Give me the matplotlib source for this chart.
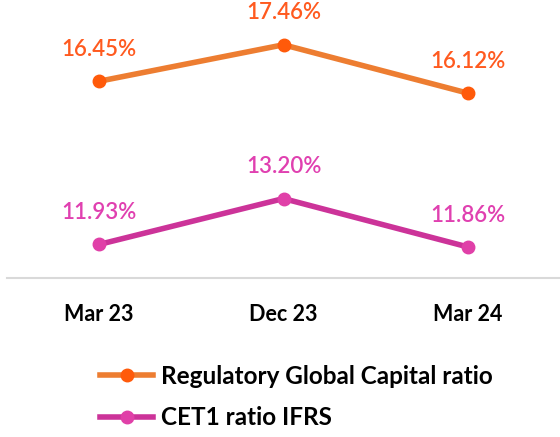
import matplotlib.pyplot as plt

periods = ["Mar 23", "Dec 23", "Mar 24"]
global_capital = [16.45, 17.46, 16.12]
cet1 = [11.93, 13.20, 11.86]

plt.rcParams['font.family'] = ['Lato', 'DejaVu Sans']

fig = plt.figure(figsize=(5.6, 4.37), dpi=100)
ax = fig.add_axes([7 / 560, 1 - 278 / 437, 553 / 560, 278 / 437])

x = range(len(periods))
ax.plot(x, global_capital, color='#ED7D31', lw=4, marker='o', ms=9,
        mfc='#FF5A0A', mec='#FF5A0A', label='Regulatory Global Capital ratio')
ax.plot(x, cet1, color='#CC3399', lw=4, marker='o', ms=9,
        mfc='#E040A8', mec='#E040A8', label='CET1 ratio IFRS')

for i, v in enumerate(global_capital):
    ax.annotate(f"{v:.2f}%", (i, v), xytext=(0, 23), textcoords='offset points',
                ha='center', va='center', color='#FF5A1F', fontsize=16,
                fontweight='semibold')
for i, v in enumerate(cet1):
    ax.annotate(f"{v:.2f}%", (i, v), xytext=(0, 23), textcoords='offset points',
                ha='center', va='center', color='#E040B0', fontsize=16,
                fontweight='semibold')

ax.set_xlim(-0.5, 2.5)
ax.set_ylim(11.0, 18.7)
ax.set_xticks(list(x))
ax.set_xticklabels(periods, fontsize=15.5, fontweight='bold')
ax.tick_params(axis='x', length=0, pad=19)
ax.set_yticks([])
for s in ['top', 'left', 'right']:
    ax.spines[s].set_visible(False)
ax.spines['bottom'].set_color('#D9D9D9')
ax.spines['bottom'].set_linewidth(1.5)

leg = fig.legend(loc='upper left', bbox_to_anchor=(78 / 560, 1 - 343 / 437),
                 frameon=False, handlelength=2.2, handletextpad=0.3,
                 labelspacing=0.75, prop={'size': 17.5, 'weight': 'bold'})

fig.savefig('out.png', dpi=100)
